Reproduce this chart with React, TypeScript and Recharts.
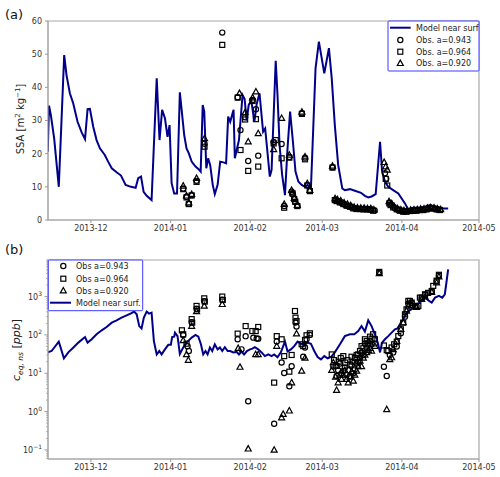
import React from 'react'
import { ComposedChart, Line, Scatter, XAxis, YAxis, ReferenceArea } from 'recharts'

// x values are days counted from 2013-12-01
const monthTicks = [0, 31, 62, 90, 121, 151]
const monthLabels = ['2013-12', '2014-01', '2014-02', '2014-03', '2014-04', '2014-05']
const xDomain: [number, number] = [-16.7, 151]

const ssaTicks = [0, 10, 20, 30, 40, 50, 60]
const ceqDomain: [number, number] = [0.058, 9000]

// (a) SSA, model near surface
const ssaModel = [
  [-16.8, 20.6], [-16.3, 34.5], [-15.6, 31.7], [-14.3, 24.6], [-12.5, 10.0], [-10.4, 49.7], [-9.5, 43.7],
  [-8.2, 38.2], [-6.9, 35.2], [-5.2, 29.6], [-3.6, 26.4], [-2.3, 24.4], [-1.3, 33.4], [-0.4, 33.5],
  [0.9, 28.1], [2.2, 24.1], [3.5, 21.6], [5.4, 19.6], [6.7, 17.6], [8.1, 15.6], [10.0, 14.4],
  [11.7, 13.4], [13.5, 10.6], [15.6, 10.0], [17.4, 9.7], [18.4, 12.6], [19.5, 13.1], [20.5, 8.5],
  [21.7, 7.3], [23.6, 6.0], [25.6, 42.7], [26.7, 24.1], [27.7, 33.2], [28.8, 30.7], [29.8, 25.1],
  [30.6, 28.6], [31.4, 11.1], [32.4, 8.0], [33.5, 8.0], [34.6, 38.5], [35.5, 31.7], [36.3, 25.6],
  [37.2, 21.6], [38.1, 20.1], [39.2, 17.6], [40.7, 16.1], [41.8, 15.4], [42.7, 14.6], [43.5, 34.7],
  [44.1, 32.7], [44.9, 15.6], [45.6, 18.6], [46.4, 16.6], [47.4, 10.6], [48.2, 7.8], [49.3, 10.6],
  [50.3, 17.6], [51.9, 17.3], [52.6, 17.1], [53.4, 31.2], [54.2, 29.6], [55.5, 33.2], [56.0, 18.6],
  [57.6, 24.1], [59.0, 37.7], [59.8, 36.5], [60.6, 30.0], [61.4, 34.7], [62.4, 36.0], [63.6, 29.6],
  [64.5, 35.0], [65.6, 38.2], [67.0, 26.6], [67.8, 27.6], [69.6, 13.1], [70.3, 15.1], [71.9, 48.0],
  [72.6, 37.7], [73.4, 22.6], [74.4, 13.6], [75.5, 7.5], [76.5, 21.6], [77.5, 32.7], [78.6, 23.6],
  [79.6, 14.6], [80.7, 11.6], [82.0, 10.6], [83.3, 10.0], [84.3, 10.6], [85.6, 9.5], [87.4, 45.7],
  [88.7, 53.8], [90.8, 44.2], [92.6, 51.8], [93.7, 42.7], [94.9, 28.6], [96.2, 16.6], [97.8, 9.5],
  [98.8, 9.0], [100.8, 9.3], [102.7, 8.8], [105.1, 8.2], [106.6, 7.3], [107.9, 6.8], [109.2, 7.1],
  [110.8, 7.8], [112.5, 23.6], [113.3, 14.6], [114.4, 11.6], [115.7, 10.0], [117.6, 9.0], [119.6, 8.0],
  [122.2, 5.0], [123.5, 3.0], [125.4, 3.7], [128.0, 3.7], [130.0, 4.0], [131.9, 4.5], [133.9, 4.0],
  [136.5, 3.5], [139.0, 3.5],
]

const ssaObs943 = [
  [35.9, 9.5], [37.2, 7.0], [38.1, 4.9], [39.2, 7.5], [41.1, 11.8], [44.2, 23.0], [51.1, 56.5],
  [57.1, 37.0], [58.2, 27.1], [60.0, 31.0], [61.2, 17.8], [62.9, 36.2], [64.2, 33.4], [65.1, 19.4],
  [71.1, 23.5], [74.2, 22.9], [75.2, 4.2], [77.2, 19.0], [78.1, 8.5], [78.5, 7.8], [79.1, 6.4],
  [79.5, 5.4], [80.3, 4.4], [82.1, 32.2], [83.3, 18.8], [84.2, 10.5], [85.2, 8.9], [94.0, 15.9],
  [95.2, 6.1], [96.2, 5.6], [97.5, 5.1], [98.8, 4.6], [100.1, 4.2], [101.4, 3.8], [102.7, 3.5],
  [104.0, 3.4], [105.3, 3.3], [106.6, 3.3], [108.0, 3.2], [109.2, 3.0], [110.4, 2.9],
  [114.4, 14.1], [114.9, 12.4],
  [116.3, 5.2], [117.1, 4.4], [118.2, 3.6], [119.6, 3.0], [120.9, 2.7], [122.1, 2.6], [123.4, 2.7],
  [124.7, 2.8], [126.0, 2.9], [127.3, 3.0], [128.6, 3.1], [129.9, 3.2], [131.2, 3.4], [132.5, 3.6],
  [133.8, 3.3], [135.1, 3.1],
]

const ssaObs964 = [
  [35.9, 9.3], [37.2, 6.8], [38.1, 4.8], [39.2, 7.4], [41.1, 11.5], [44.2, 22.1], [51.1, 52.8],
  [57.1, 36.9], [58.2, 21.1], [60.0, 30.3], [61.2, 14.8], [62.9, 35.9], [64.2, 30.4], [65.1, 16.1],
  [71.1, 23.1], [71.9, 24.1], [74.2, 18.6], [75.2, 3.7], [77.2, 18.8], [78.5, 8.0], [79.1, 6.3],
  [79.5, 5.5], [80.3, 4.2], [82.1, 32.0], [83.3, 18.3], [84.2, 10.4], [85.2, 8.7], [94.0, 15.8],
  [94.9, 6.0], [95.6, 5.7], [96.9, 5.3], [98.2, 4.8], [99.5, 4.3], [100.8, 4.0], [102.1, 3.5],
  [103.4, 3.3], [104.7, 3.3], [106.0, 3.2], [107.3, 3.2], [108.6, 3.2], [109.8, 2.8],
  [114.7, 12.4], [115.3, 10.4],
  [116.1, 5.0], [116.6, 4.5], [117.6, 3.8], [119.0, 3.2], [120.2, 2.8], [121.5, 2.5], [122.8, 2.5],
  [124.1, 2.7], [125.4, 2.8], [126.7, 2.8], [128.0, 3.0], [129.3, 3.0], [130.6, 3.2], [131.9, 3.5],
  [133.2, 3.5], [134.5, 3.2], [135.8, 3.0],
]

const ssaObs920 = [
  [35.9, 10.3], [37.2, 7.3], [38.1, 5.2], [39.2, 7.8], [41.1, 12.6], [44.2, 24.6], [57.8, 38.2],
  [60.0, 32.4], [61.2, 23.6], [62.9, 36.9], [64.2, 38.7], [65.1, 26.1], [71.1, 21.3], [74.2, 30.7],
  [75.2, 4.8], [77.2, 19.6], [78.1, 9.0], [78.5, 8.2], [79.1, 6.6], [80.3, 4.5], [82.1, 32.6],
  [83.3, 19.1], [84.2, 11.0], [85.2, 9.0], [94.0, 16.3],
  [95.0, 6.5], [95.9, 6.2], [97.2, 5.8], [98.5, 5.2], [99.8, 4.8], [101.1, 4.4], [102.4, 3.9],
  [103.7, 3.7], [105.0, 3.6], [106.3, 3.6], [107.6, 3.5], [108.9, 3.5], [110.1, 3.1],
  [114.1, 17.4], [114.7, 16.1], [115.3, 15.1],
  [116.0, 5.6], [116.8, 5.0], [117.9, 4.2], [119.3, 3.5], [120.6, 3.1], [121.8, 2.9], [123.1, 2.9],
  [124.4, 3.0], [125.7, 3.1], [127.0, 3.2], [128.3, 3.3], [129.6, 3.4], [130.9, 3.6], [132.2, 3.8],
  [133.5, 3.7], [134.8, 3.4], [136.1, 3.2],
]

// (b) c_eq,ns, model near surface
const ceqModel = [
  [-16.8, 35], [-15.3, 38], [-12.5, 67], [-10.5, 24.5], [-8.8, 35], [-6.9, 46.5], [-4.9, 63],
  [-2.3, 88], [-1.3, 63], [0.3, 77], [2.2, 104], [4.2, 132], [6.1, 161], [8.1, 209], [10.0, 240],
  [11.9, 282], [13.9, 324], [15.6, 365], [16.8, 407], [17.8, 345], [18.8, 170], [19.7, 148],
  [20.6, 282], [21.7, 407], [22.6, 360], [23.6, 382], [24.5, 69], [25.6, 31], [26.6, 38], [27.5, 31],
  [28.8, 42], [30.1, 55], [31.1, 55], [31.6, 88], [32.4, 90], [32.7, 115], [33.7, 93], [34.6, 32],
  [35.9, 47], [37.2, 63], [39.2, 85], [40.7, 100], [41.8, 90], [42.8, 57], [43.7, 31], [44.6, 38],
  [45.4, 31], [46.3, 47], [47.2, 38], [48.2, 57], [49.3, 42], [50.2, 47], [51.1, 38], [52.1, 48],
  [53.2, 38], [54.2, 38], [55.4, 35], [56.7, 36], [57.6, 31], [58.6, 37], [59.6, 31], [60.7, 38],
  [61.9, 42], [62.8, 44], [63.8, 48], [65.1, 42], [66.4, 35], [67.7, 28], [69.0, 31], [70.3, 28],
  [71.3, 31], [72.6, 26], [73.9, 35], [75.5, 67], [76.5, 37], [77.8, 42], [79.1, 51], [80.4, 67],
  [81.7, 59], [83.0, 55], [84.3, 63], [85.6, 59], [86.9, 38], [88.2, 26.5], [89.5, 23], [90.8, 28],
  [92.1, 24.5], [93.4, 26.5], [94.9, 35], [96.9, 57], [98.8, 93], [100.8, 104], [102.5, 104],
  [104.0, 126], [105.3, 170], [106.6, 123], [107.9, 240], [109.2, 170], [110.5, 104], [111.6, 63],
  [112.5, 35], [113.3, 63], [114.4, 77], [115.7, 93], [117.0, 115], [118.3, 140], [119.3, 148],
  [120.2, 189], [121.5, 256], [122.5, 345], [123.5, 420], [124.8, 465], [126.1, 600], [127.4, 660],
  [128.7, 770], [130.0, 977], [131.2, 800], [132.6, 695], [133.9, 940], [135.4, 1040], [136.7, 940],
  [137.7, 1150], [138.4, 2550], [139.0, 5150],
]

const ceqObs943 = [
  [35.9, 100], [37.6, 51], [38.1, 38], [39.2, 215], [41.1, 480], [44.1, 760], [51.1, 830],
  [57.1, 77], [58.6, 42], [60.2, 93], [61.2, 1.86], [63.2, 85], [64.5, 81], [65.1, 80],
  [71.3, 0.48], [72.3, 67], [74.2, 19], [75.2, 10.2], [77.2, 4.6], [78.1, 15.3], [79.6, 210],
  [80.0, 165], [82.6, 27], [83.3, 47], [83.9, 77], [85.2, 100],
  [94.3, 15], [95.2, 15.5], [95.6, 8.5], [96.2, 12], [96.9, 18], [97.5, 10], [98.2, 11.5],
  [98.8, 14], [99.5, 9], [100.1, 12], [100.8, 8.5], [101.4, 16], [102.1, 10], [102.7, 12.6],
  [103.4, 18], [104.0, 20], [104.7, 25], [105.3, 35], [106.0, 30], [106.6, 60], [107.3, 45],
  [108.0, 55], [108.6, 70], [109.2, 58], [110.5, 60], [112.2, 4200],
  [114.0, 14.8], [115.1, 8.5], [116.3, 30], [117.6, 35], [119.0, 50], [120.6, 110], [122.2, 300],
  [123.5, 650], [124.8, 680], [126.7, 560], [128.7, 900], [130.0, 1100], [132.6, 1350],
  [134.5, 2500], [135.4, 3500],
]

const ceqObs964 = [
  [35.4, 132], [35.9, 104], [37.2, 59], [39.2, 258], [39.4, 209], [41.1, 570], [41.3, 465],
  [44.1, 900], [44.3, 740], [51.1, 1000], [51.3, 815], [57.1, 108], [60.2, 170], [62.8, 126],
  [64.1, 126], [65.1, 161], [71.3, 5.7], [72.3, 93], [74.2, 77], [75.2, 28], [77.2, 11],
  [78.1, 30], [79.4, 420], [79.6, 282], [80.0, 230], [82.0, 57], [82.6, 51], [83.3, 74],
  [83.9, 98], [85.2, 110],
  [93.7, 31], [94.6, 22], [95.6, 15.5], [96.4, 20], [97.2, 25], [98.2, 28], [99.0, 19], [99.8, 22],
  [100.8, 17], [101.4, 27], [102.1, 20], [102.7, 25], [103.4, 30], [104.0, 31], [104.7, 38],
  [105.3, 51], [106.0, 45], [106.6, 77], [107.3, 69], [107.9, 60], [108.6, 90], [109.2, 80],
  [109.8, 104], [110.5, 77], [112.2, 4400],
  [114.0, 53], [115.1, 40], [115.7, 38], [117.0, 47], [118.0, 57], [119.0, 67], [119.6, 93],
  [120.6, 140], [121.5, 209], [122.2, 345], [122.8, 465], [123.5, 770], [124.1, 770], [124.8, 700],
  [126.1, 570], [127.4, 570], [128.0, 940], [128.7, 940], [130.0, 1150], [131.2, 1250],
  [132.6, 1400], [133.2, 1900], [134.5, 2600], [135.4, 3700],
]

const ceqObs920 = [
  [35.9, 72], [37.2, 31], [37.9, 22], [39.2, 170], [41.1, 410], [44.1, 570], [51.1, 630],
  [57.3, 45], [58.0, 14.5], [61.2, 0.107], [64.1, 31], [65.1, 31], [71.3, 0.1], [72.3, 51],
  [74.2, 0.69], [74.8, 0.86], [77.2, 1.05], [78.1, 5.7], [80.0, 108], [82.0, 11.5], [83.3, 25],
  [93.7, 12], [94.3, 19], [95.2, 8], [95.6, 3.6], [96.2, 5.7], [96.9, 9], [97.5, 7], [98.2, 9],
  [98.8, 12], [99.5, 7], [100.1, 5.7], [100.8, 8], [101.4, 11], [102.1, 6.3], [102.7, 9],
  [103.4, 11.5], [104.0, 15], [104.7, 21], [105.3, 15], [106.0, 25], [106.6, 30], [107.3, 35],
  [108.0, 40], [108.6, 45], [109.2, 38], [110.5, 51], [112.2, 4000],
  [115.1, 1.14], [116.3, 23], [117.0, 25.7], [117.6, 42], [119.0, 69], [120.6, 140], [121.5, 210],
  [122.8, 420], [123.5, 570], [124.8, 600], [126.7, 530], [128.7, 850], [130.0, 1000],
  [132.6, 1300], [134.5, 2300], [135.4, 3300],
]

const FONT = 'DejaVu Sans'
const NAVY = '#00008b'
const FRAME = '#a8a8a8'
const LEGEND_EDGE = '#3c3cff'

const pts = (a: number[][]) => a.map(([d, v]) => ({ d, v }))

const logTicks: number[] = []
for (const dec of [0.01, 0.1, 1, 10, 100, 1000]) {
  for (let m = 1; m <= 9; m++) {
    const t = +(m * dec).toPrecision(3)
    if (t >= ceqDomain[0] && t <= ceqDomain[1]) logTicks.push(t)
  }
}

const CircleMark = (p: any) => (
  <circle cx={p.cx} cy={p.cy} r={2.6} fill="none" stroke="#000" strokeWidth={1.2} />
)
const SquareMark = (p: any) => (
  <rect x={p.cx - 2.5} y={p.cy - 2.5} width={5} height={5} fill="none" stroke="#000" strokeWidth={1.2} />
)
const TriangleMark = (p: any) => (
  <path
    d={`M${p.cx},${p.cy - 3.2}L${p.cx + 3},${p.cy + 2.2}L${p.cx - 3},${p.cy + 2.2}Z`}
    fill="none"
    stroke="#000"
    strokeWidth={1.2}
  />
)

const tickStyle = { fill: '#333', fontSize: 8, fontFamily: FONT }

const LogTick = ({ x, y, payload }: any) => {
  const v = payload.value
  const lg = Math.log10(v)
  const e = Math.round(lg)
  const major = Math.abs(lg - e) < 1e-6
  return (
    <g>
      <line x1={x} x2={x - (major ? 3.5 : 2)} y1={y} y2={y} stroke="#999" strokeWidth={major ? 1 : 0.7} />
      {major && (
        <text x={x - 6} y={y + 3} textAnchor="end" fontSize={8} fontFamily={FONT} fill="#333">
          10
          <tspan dy={-4} fontSize={6}>
            {e < 0 ? '\u2212' + -e : e}
          </tspan>
        </text>
      )}
    </g>
  )
}

const monthLabel = (v: number) => monthLabels[monthTicks.indexOf(v)] ?? ''

function TopPanel() {
  return (
    <ComposedChart width={500} height={240} margin={{ top: 21, right: 21, bottom: 0, left: 0 }}>
      <XAxis
        dataKey="d"
        type="number"
        domain={xDomain}
        allowDataOverflow
        ticks={monthTicks}
        interval={0}
        tickFormatter={monthLabel}
        height={20}
        tick={tickStyle}
        tickSize={3}
        tickMargin={2}
        stroke={FRAME}
        tickLine={{ stroke: '#999' }}
      />
      <YAxis
        dataKey="v"
        type="number"
        domain={[0, 60]}
        allowDataOverflow
        ticks={ssaTicks}
        interval={0}
        width={48}
        tick={tickStyle}
        tickSize={3}
        tickMargin={3}
        stroke={FRAME}
        tickLine={{ stroke: '#999' }}
      />
      <ReferenceArea
        x1={xDomain[0]}
        x2={xDomain[1]}
        y1={0}
        y2={60}
        fill="none"
        stroke={FRAME}
        strokeWidth={1.2}
        ifOverflow="visible"
      />
      <Line data={pts(ssaModel)} dataKey="v" stroke={NAVY} strokeWidth={2} dot={false} isAnimationActive={false} />
      <Scatter data={pts(ssaObs943)} shape={CircleMark} isAnimationActive={false} />
      <Scatter data={pts(ssaObs964)} shape={SquareMark} isAnimationActive={false} />
      <Scatter data={pts(ssaObs920)} shape={TriangleMark} isAnimationActive={false} />
    </ComposedChart>
  )
}

function BottomPanel() {
  return (
    <ComposedChart width={500} height={237} margin={{ top: 20, right: 21, bottom: 0, left: 0 }}>
      <XAxis
        dataKey="d"
        type="number"
        domain={xDomain}
        allowDataOverflow
        ticks={monthTicks}
        interval={0}
        tickFormatter={monthLabel}
        height={18}
        tick={tickStyle}
        tickSize={3}
        tickMargin={2}
        stroke={FRAME}
        tickLine={{ stroke: '#999' }}
      />
      <YAxis
        dataKey="v"
        type="number"
        scale="log"
        domain={ceqDomain}
        allowDataOverflow
        ticks={logTicks}
        interval={0}
        width={48}
        tick={<LogTick />}
        tickLine={false}
        tickSize={0}
        tickMargin={0}
        stroke={FRAME}
      />
      <ReferenceArea
        x1={xDomain[0]}
        x2={xDomain[1]}
        y1={ceqDomain[0]}
        y2={ceqDomain[1]}
        fill="none"
        stroke={FRAME}
        strokeWidth={1.2}
        ifOverflow="visible"
      />
      <Scatter data={pts(ceqObs943)} shape={CircleMark} isAnimationActive={false} />
      <Scatter data={pts(ceqObs964)} shape={SquareMark} isAnimationActive={false} />
      <Scatter data={pts(ceqObs920)} shape={TriangleMark} isAnimationActive={false} />
      <Line data={pts(ceqModel)} dataKey="v" stroke={NAVY} strokeWidth={2} dot={false} isAnimationActive={false} />
    </ComposedChart>
  )
}

function Overlay() {
  const txt = { fontFamily: FONT, fontSize: 8, fill: '#222' }
  const circ = (x: number, y: number) => <circle cx={x} cy={y} r={2.6} fill="none" stroke="#000" strokeWidth={1.2} />
  const sq = (x: number, y: number) => (
    <rect x={x - 2.5} y={y - 2.5} width={5} height={5} fill="none" stroke="#000" strokeWidth={1.2} />
  )
  const tri = (x: number, y: number) => (
    <path d={`M${x},${y - 3.2}L${x + 3},${y + 2.2}L${x - 3},${y + 2.2}Z`} fill="none" stroke="#000" strokeWidth={1.2} />
  )
  return (
    <svg width={500} height={477} style={{ position: 'absolute', left: 0, top: 0, pointerEvents: 'none' }}>
      <text x={5} y={19} fontFamily={FONT} fontSize={13} fill="#111">(a)</text>
      <text x={5} y={254} fontFamily={FONT} fontSize={13} fill="#111">(b)</text>

      <text transform="translate(24,119) rotate(-90)" textAnchor="middle" fontFamily={FONT} fontSize={10} fill="#222">
        SSA [m<tspan dy={-3.8} fontSize={7}>2</tspan>
        <tspan dy={3.8}> kg</tspan>
        <tspan dy={-3.8} fontSize={7}>{'\u22121'}</tspan>
        <tspan dy={3.8}>]</tspan>
      </text>

      <text transform="translate(20,350) rotate(-90)" textAnchor="middle" fontFamily={FONT} fontSize={11} fill="#222">
        <tspan fontStyle="italic">c</tspan>
        <tspan dy={2.8} fontSize={7.5} fontStyle="italic">eq, ns</tspan>
        <tspan dy={-2.8}> [</tspan>
        <tspan fontStyle="italic">ppb</tspan>
        <tspan>]</tspan>
      </text>

      {/* legend (a) */}
      <rect x={388} y={21} width={91} height={50} fill="#fff" stroke={LEGEND_EDGE} strokeWidth={1} rx={1} />
      <line x1={390} x2={410.7} y1={27.7} y2={27.7} stroke={NAVY} strokeWidth={2} />
      <text x={416} y={30.5} {...txt}>Model near surf</text>
      {circ(400.3, 40)}
      <text x={416} y={42.8} {...txt}>Obs. a=0.943</text>
      {sq(400.3, 51.7)}
      <text x={416} y={54.5} {...txt}>Obs. a=0.964</text>
      {tri(400.3, 63.3)}
      <text x={416} y={66.1} {...txt}>Obs. a=0.920</text>

      {/* legend (b) */}
      <rect x={48.3} y={260} width={94.4} height={50.7} fill="#fff" stroke={LEGEND_EDGE} strokeWidth={1} rx={1} />
      {circ(63.3, 266)}
      <text x={76} y={268.8} {...txt}>Obs a=0.943</text>
      {sq(63.3, 278.7)}
      <text x={76} y={281.5} {...txt}>Obs a=0.964</text>
      {tri(63.3, 290.7)}
      <text x={76} y={293.5} {...txt}>Obs a=0.920</text>
      <line x1={50} x2={71} y1={302.7} y2={302.7} stroke={NAVY} strokeWidth={2} />
      <text x={76} y={305.5} {...txt}>Model near surf.</text>
    </svg>
  )
}

export default function App() {
  return (
    <div style={{ position: 'absolute', left: 0, top: 0, width: 500, height: 477, background: '#fff', fontFamily: FONT }}>
      <div style={{ position: 'absolute', left: 0, top: 0 }}>
        <TopPanel />
      </div>
      <div style={{ position: 'absolute', left: 0, top: 240 }}>
        <BottomPanel />
      </div>
      <Overlay />
    </div>
  )
}
